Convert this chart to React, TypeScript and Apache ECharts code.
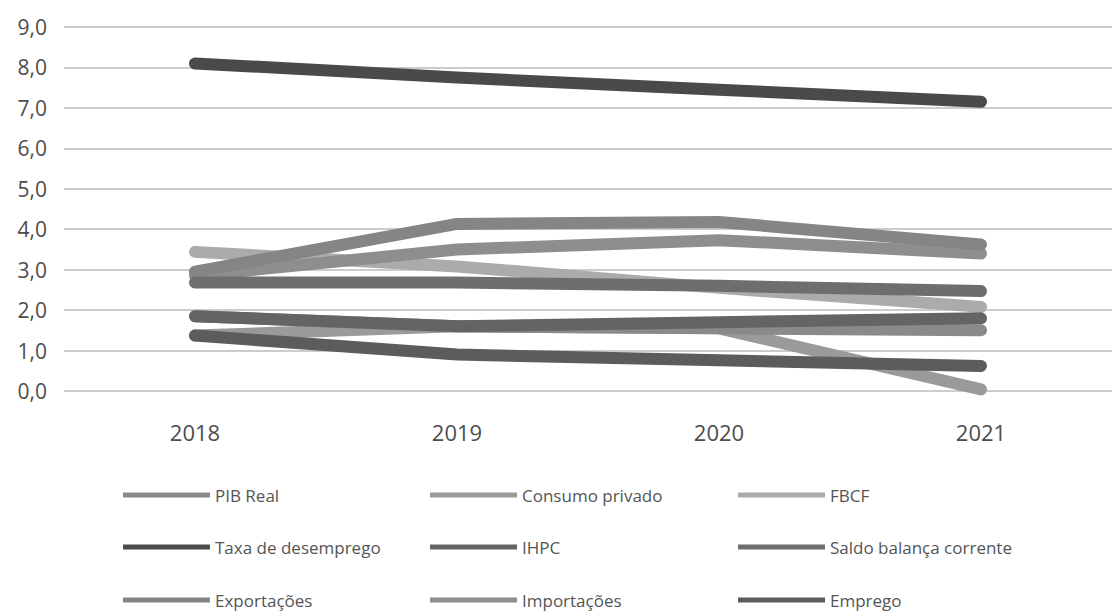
import React, { useEffect, useRef } from "react";
import * as echarts from "echarts";

const years = ["2018", "2019", "2020", "2021"];

const taxaDesemprego = [8.1, 7.75, 7.45, 7.15];
const exportacoes = [2.95, 4.13, 4.18, 3.62];
const importacoes = [2.85, 3.5, 3.73, 3.4];
const fbcf = [3.44, 3.08, 2.55, 2.08];
const saldoBalanca = [2.68, 2.68, 2.6, 2.47];
const ihpc = [1.85, 1.6, 1.7, 1.8];
const pibReal = [1.85, 1.6, 1.55, 1.5];
const consumoPrivado = [1.37, 1.6, 1.55, 0.04];
const emprego = [1.37, 0.9, 0.76, 0.62];

const yTicks = ["0,0", "1,0", "2,0", "3,0", "4,0", "5,0", "6,0", "7,0", "8,0", "9,0"];

const legendRows = [
  ["PIB Real", "Consumo privado", "FBCF"],
  ["Taxa de desemprego", "IHPC", "Saldo balança corrente"],
  ["Exportações", "Importações", "Emprego"],
];

const seriesDefs = [
  { name: "FBCF", data: fbcf, color: "#ababab" },
  { name: "Consumo privado", data: consumoPrivado, color: "#9a9a9a" },
  { name: "PIB Real", data: pibReal, color: "#8a8a8a" },
  { name: "Importações", data: importacoes, color: "#8e8e8e" },
  { name: "Exportações", data: exportacoes, color: "#858585" },
  { name: "Saldo balança corrente", data: saldoBalanca, color: "#6e6e6e" },
  { name: "IHPC", data: ihpc, color: "#646464" },
  { name: "Emprego", data: emprego, color: "#5c5c5c" },
  { name: "Taxa de desemprego", data: taxaDesemprego, color: "#4a4a4a" },
];

const FONT = "'Open Sans', 'Noto Sans', sans-serif";

const colLefts = [123, 430, 738];
const rowCenters = [495, 547, 600];

function buildLegends() {
  const out: any[] = [];
  legendRows.forEach((row, r) => {
    row.forEach((name, c) => {
      out.push({
        orient: "horizontal",
        left: colLefts[c],
        top: rowCenters[r] - 10,
        padding: 0,
        data: [name],
        icon: "rect",
        itemWidth: 87,
        itemHeight: 5,
        textStyle: { fontFamily: FONT, fontSize: 17, color: "#555", lineHeight: 20 },
        selectedMode: false,
      });
    });
  });
  return out;
}

export default function App() {
  const ref = useRef<HTMLDivElement>(null);
  useEffect(() => {
    if (!ref.current) return;
    const chart = echarts.init(ref.current, undefined, { renderer: "svg" });
    chart.setOption({
      animation: false,
      backgroundColor: "#ffffff",
      grid: { left: 64, right: 0, top: 27, bottom: 221 },
      legend: buildLegends(),
      xAxis: {
        type: "category",
        data: years,
        boundaryGap: true,
        axisLine: { show: false },
        axisTick: { show: false },
        axisLabel: { fontFamily: FONT, fontSize: 22, color: "#4d4d4d", margin: 30 },
      },
      yAxis: {
        type: "value",
        min: 0,
        max: 9,
        interval: 1,
        axisLine: { show: false },
        axisTick: { show: false },
        axisLabel: {
          fontFamily: FONT,
          fontSize: 21,
          fontWeight: 500,
          color: "#4d4d4d",
          margin: 17,
          formatter: (v: number) => yTicks[Math.round(v)] ?? "",
        },
        splitLine: { lineStyle: { color: "#cccccc", width: 2 } },
      },
      series: seriesDefs.map((s) => ({
        type: "line",
        name: s.name,
        data: s.data,
        symbol: "none",
        color: s.color,
        lineStyle: { color: s.color, width: 12, cap: "round", join: "round" },
        z: 2,
      })),
    });
    return () => chart.dispose();
  }, []);
  return (
    <div
      ref={ref}
      style={{ position: "absolute", left: 0, top: 0, width: 1112, height: 612, background: "#fff" }}
    />
  );
}
